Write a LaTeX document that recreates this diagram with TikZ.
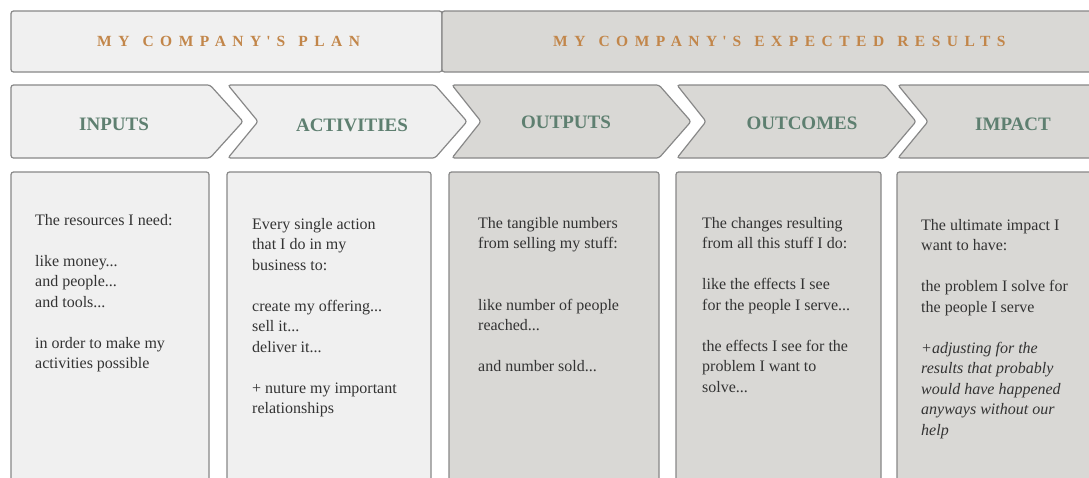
\documentclass[tikz,border=0pt]{standalone}
\usepackage{fontspec}
\setmainfont{Liberation Serif}
\definecolor{lightfill}{HTML}{F0F0F0}
\definecolor{darkfill}{HTML}{D9D8D5}
\definecolor{bordercol}{HTML}{888888}
\definecolor{hdrgreen}{HTML}{5E7F70}
\definecolor{bannerorange}{HTML}{C2864A}
\definecolor{bodytext}{HTML}{333333}
\newcommand{\apos}{\kern5pt\textquotesingle\kern6pt}
\newcommand{\wgap}{\hspace{13pt}}
\begin{document}
\begin{tikzpicture}[x=1pt,y=-1pt,
  shapeline/.style={draw=bordercol, line width=1.2pt, rounded corners=2.5pt},
  lightshape/.style={shapeline, fill=lightfill},
  darkshape/.style={shapeline, fill=darkfill},
  hdr/.style={font=\fontsize{19}{22}\selectfont\bfseries, text=hdrgreen, inner sep=0pt},
  banner/.style={font=\fontsize{15.5}{17}\selectfont\bfseries\addfontfeature{LetterSpace=42}, text=bannerorange, inner sep=0pt, anchor=west},
  body/.style={font=\fontsize{16}{20.5}\selectfont, text=bodytext, align=left, inner sep=0pt, anchor=north west}]
\useasboundingbox (0,0) rectangle (1089,477);
\fill[white] (0,0) rectangle (1089,477);
\clip (0,0) rectangle (1089,477);

% top banner
\draw[lightshape] (11,11) rectangle (442,72);
\draw[darkshape] (442,11) rectangle (1110,72);
\node[banner] (plan) at (97,41) {MY\wgap COMPANY\apos S\wgap PLAN};
\node[banner] (results) at (553,41) {MY\wgap COMPANY\apos S\wgap EXPECTED\wgap RESULTS};

% chevrons
\draw[lightshape] (11,85) -- (210,85) -- (243,121.5) -- (210,158) -- (11,158) -- cycle;
\draw[lightshape] (228,85) -- (435,85) -- (467,121.5) -- (435,158) -- (228,158) -- (258,121.5) -- cycle;
\draw[darkshape] (452,85) -- (659,85) -- (691,121.5) -- (659,158) -- (452,158) -- (481,121.5) -- cycle;
\draw[darkshape] (677,85) -- (885,85) -- (916,121.5) -- (885,158) -- (677,158) -- (706,121.5) -- cycle;
\draw[darkshape] (898,85) -- (1110,85) -- (1110,158) -- (898,158) -- (928,121.5) -- cycle;

\node[hdr] (inputs) at (114,124) {INPUTS};
\node[hdr] (activities) at (352,125) {ACTIVITIES};
\node[hdr] (outputs) at (566,122.5) {OUTPUTS};
\node[hdr] (outcomes) at (802,123) {OUTCOMES};
\node[hdr] (impact) at (1013,124) {IMPACT};

% columns
\draw[lightshape] (11,172) rectangle (209,500);
\draw[lightshape] (227,172) rectangle (431,500);
\draw[darkshape] (449,172) rectangle (659,500);
\draw[darkshape] (676,172) rectangle (881,500);
\draw[darkshape] (897,172) rectangle (1110,500);

\node[body] (intext) at (35,214) {The resources I need:\\[20.5pt]like money...\\and people...\\and tools...\\[20.5pt]in order to make my\\activities possible};
\node[body] (acttext) at (252,218) {Every single action\\that I do in my\\business to:\\[20.5pt]create my offering...\\sell it...\\deliver it...\\[20.5pt]+ nuture my important\\relationships};
\node[body] (outtext) at (478,217) {The tangible numbers\\from selling my stuff:\\[41pt]like number of people\\reached...\\[20.5pt]and number sold...};
\node[body] (outctext) at (702,217) {The changes resulting\\from all this stuff I do:\\[20.5pt]like the effects I see\\for the people I serve...\\[20.5pt]the effects I see for the\\problem I want to\\solve...};
\node[body] (imptext) at (921,219) {The ultimate impact I\\want to have:\\[20.5pt]the problem I solve for\\the people I serve\\[20.5pt]\itshape +adjusting for the\\\itshape results that probably\\\itshape would have happened\\\itshape anyways without our\\\itshape help};
\end{tikzpicture}
\end{document}
